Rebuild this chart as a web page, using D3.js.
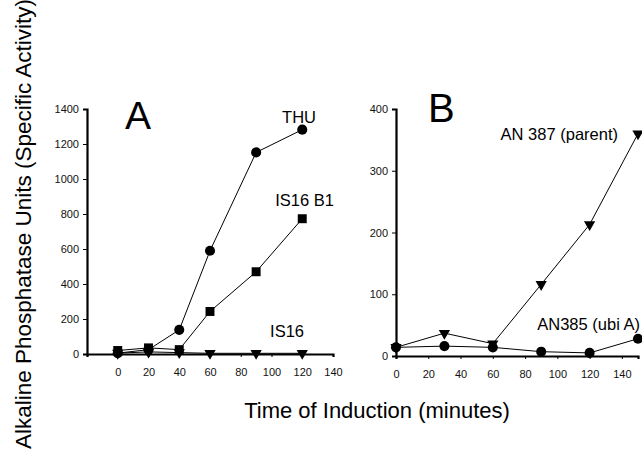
<!DOCTYPE html>
<html>
<head>
<meta charset="utf-8">
<script src="https://cdn.jsdelivr.net/npm/d3@7"></script>
<style>
  body { margin: 0; background: #fff; }
  svg { font-family: "Liberation Sans", Arial, sans-serif; }
</style>
</head>
<body>
<div class="chart"></div>
<script>
// panel A data
var timesA = [0, 20, 40, 60, 90, 120];
var thu = [5, 25, 138, 590, 1152, 1282];
var is16b1 = [20, 35, 25, 243, 470, 773];
var is16 = [5, 12, 8, 4, 4, 4];
var xTicksA = [0, 20, 40, 60, 80, 100, 120, 140];
var yTicksA = [0, 200, 400, 600, 800, 1000, 1200, 1400];

// panel B data
var timesB = [0, 30, 60, 90, 120, 150];
var an387 = [14, 37, 20, 116, 213, 360];
var an385 = [14, 16, 14, 7, 5, 28];
var xTicksB = [0, 20, 40, 60, 80, 100, 120, 140];
var yTicksB = [0, 100, 200, 300, 400];

var width = 642, height = 450;
var svg = d3.select(".chart").append("svg").attr("width", width).attr("height", height);

var shapes = {
  circle: d3.symbol().type(d3.symbolCircle).size(80),
  square: d3.symbol().type(d3.symbolSquare).size(80),
  tri: d3.symbol().type(d3.symbolTriangle).size(55)
};

function panel(o) {
  var x = d3.scaleLinear().domain(o.xDomain).range(o.xRange);
  var y = d3.scaleLinear().domain(o.yDomain).range(o.yRange);
  var g = svg.append("g");

  // axes
  var xa = g.append("g").attr("transform", "translate(0," + o.yRange[0] + ")")
    .call(d3.axisBottom(x).tickValues(o.xTicks).tickFormat(d3.format("d")).tickSize(3).tickPadding(11));
  var ya = g.append("g").attr("transform", "translate(" + o.xRange[0] + ",0)")
    .call(d3.axisLeft(y).tickValues(o.yTicks).tickFormat(d3.format("d")).tickSize(4).tickPadding(4));
  [xa, ya].forEach(function (a) {
    a.select(".domain").attr("stroke", "#000").attr("stroke-width", 2.2);
    a.selectAll(".tick line").attr("stroke", "#000").attr("stroke-width", 1);
    a.selectAll("text").attr("font-size", 11).attr("fill", "#111")
      .attr("font-family", "Liberation Sans, Arial, sans-serif");
  });

  var line = d3.line().x(function (d) { return x(d[0]); }).y(function (d) { return y(d[1]); });

  o.series.forEach(function (s) {
    var pts = o.times.map(function (t, i) { return [t, s.values[i]]; });
    g.append("path").datum(pts).attr("d", line)
      .attr("fill", "none").attr("stroke", "#000").attr("stroke-width", 1);
    g.selectAll(null).data(pts).enter().append("path")
      .attr("d", shapes[s.shape])
      .attr("transform", function (d) {
        return "translate(" + x(d[0]) + "," + y(d[1]) + ")" + (s.shape === "tri" ? " rotate(180)" : "");
      })
      .attr("fill", "#000");
    g.append("text").attr("x", s.lx).attr("y", s.ly).attr("font-size", 16.5)
      .attr("text-anchor", "end").text(s.name);
  });

  g.append("text").attr("x", o.letter.x).attr("y", o.letter.y)
    .attr("font-size", o.letter.size).text(o.letter.text);
}

panel({
  xDomain: [-20, 140], xRange: [87, 333],
  yDomain: [0, 1400], yRange: [354, 109],
  xTicks: xTicksA, yTicks: yTicksA, times: timesA,
  letter: { text: "A", x: 125, y: 129, size: 39 },
  series: [
    { name: "THU", values: thu, shape: "circle", lx: 316, ly: 123 },
    { name: "IS16 B1", values: is16b1, shape: "square", lx: 334, ly: 206 },
    { name: "IS16", values: is16, shape: "tri", lx: 304, ly: 337 }
  ]
});

panel({
  xDomain: [0, 150], xRange: [396, 638],
  yDomain: [0, 400], yRange: [356, 109],
  xTicks: xTicksB, yTicks: yTicksB, times: timesB,
  letter: { text: "B", x: 428, y: 122, size: 40 },
  series: [
    { name: "AN 387 (parent)", values: an387, shape: "tri", lx: 618, ly: 140 },
    { name: "AN385 (ubi A)", values: an385, shape: "circle", lx: 640, ly: 330 }
  ]
});

// axis titles
svg.append("text").attr("transform", "translate(31,224) rotate(-90)")
  .attr("text-anchor", "middle").attr("font-size", 22.5)
  .text("Alkaline Phosphatase Units (Specific Activity)");
svg.append("text").attr("x", 377).attr("y", 418)
  .attr("text-anchor", "middle").attr("font-size", 22)
  .text("Time of Induction (minutes)");
</script>
</body>
</html>
